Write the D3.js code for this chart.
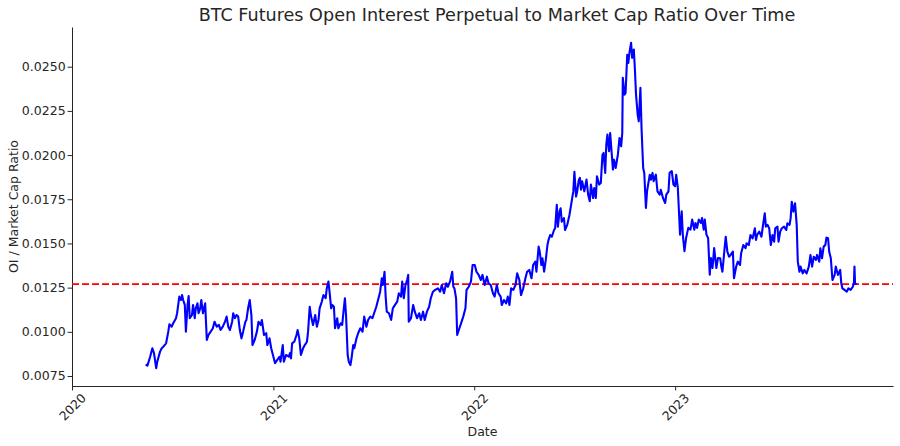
<!DOCTYPE html>
<html><head><meta charset="utf-8">
<script src="https://cdn.jsdelivr.net/npm/d3@7"></script>
<style>
body{margin:0;background:#fff}
svg{display:block}
text{font-family:"DejaVu Sans",sans-serif;fill:#262626}
</style>
</head><body>
<svg id="chart" width="900" height="446"></svg>
<script>
const titleText = "BTC Futures Open Interest Perpetual to Market Cap Ratio Over Time";
const xLabel = "Date";
const yLabel = "OI / Market Cap Ratio";
const yTicks = [0.0075, 0.0100, 0.0125, 0.0150, 0.0175, 0.0200, 0.0225, 0.0250];
const xTickYears = ["2020", "2021", "2022", "2023"];
const meanRatio = 0.0127;

const dates = [
"2020-05-14","2020-05-17","2020-05-22","2020-05-26","2020-05-29","2020-06-02","2020-06-04","2020-06-09","2020-06-12","2020-06-15",
"2020-06-20","2020-06-24","2020-06-26","2020-06-30","2020-07-03","2020-07-08","2020-07-10","2020-07-14","2020-07-17","2020-07-19",
"2020-07-21","2020-07-24","2020-07-26","2020-07-29","2020-07-31","2020-08-02","2020-08-06","2020-08-08","2020-08-11","2020-08-13",
"2020-08-16","2020-08-18","2020-08-21","2020-08-23","2020-08-26","2020-08-28","2020-08-30","2020-09-02","2020-09-05","2020-09-09",
"2020-09-13","2020-09-16","2020-09-20","2020-09-24","2020-09-27","2020-10-01","2020-10-05","2020-10-08","2020-10-11","2020-10-14",
"2020-10-18","2020-10-20","2020-10-23","2020-10-26","2020-10-29","2020-11-01","2020-11-04","2020-11-07","2020-11-11","2020-11-13",
"2020-11-16","2020-11-19","2020-11-22","2020-11-24","2020-11-28","2020-12-02","2020-12-05","2020-12-09","2020-12-11","2020-12-15",
"2020-12-19","2020-12-21","2020-12-25","2020-12-28","2021-01-01","2021-01-04","2021-01-08","2021-01-12","2021-01-14","2021-01-18",
"2021-01-20","2021-01-24","2021-01-29","2021-01-31","2021-02-02","2021-02-04","2021-02-08","2021-02-12","2021-02-14","2021-02-17",
"2021-02-20","2021-02-24","2021-02-27","2021-03-03","2021-03-05","2021-03-08","2021-03-10","2021-03-14","2021-03-18","2021-03-21",
"2021-03-24","2021-03-26","2021-03-30","2021-04-02","2021-04-06","2021-04-08","2021-04-11","2021-04-13","2021-04-16","2021-04-18",
"2021-04-21","2021-04-23","2021-04-27","2021-04-29","2021-05-03","2021-05-06","2021-05-09","2021-05-11","2021-05-13","2021-05-16",
"2021-05-18","2021-05-21","2021-05-23","2021-05-26","2021-05-28","2021-06-01","2021-06-04","2021-06-08","2021-06-12","2021-06-15",
"2021-06-19","2021-06-22","2021-06-26","2021-06-30","2021-07-03","2021-07-07","2021-07-11","2021-07-14","2021-07-17","2021-07-19",
"2021-07-22","2021-07-24","2021-07-26","2021-07-30","2021-08-03","2021-08-06","2021-08-10","2021-08-14","2021-08-17","2021-08-21",
"2021-08-23","2021-08-26","2021-08-29","2021-09-01","2021-09-03","2021-09-04","2021-09-08","2021-09-12","2021-09-15","2021-09-19",
"2021-09-23","2021-09-26","2021-09-30","2021-10-03","2021-10-07","2021-10-11","2021-10-14","2021-10-18","2021-10-22","2021-10-27",
"2021-10-31","2021-11-03","2021-11-07","2021-11-11","2021-11-14","2021-11-18","2021-11-22","2021-11-24","2021-11-26","2021-11-29",
"2021-12-01","2021-12-05","2021-12-08","2021-12-12","2021-12-16","2021-12-18","2021-12-22","2021-12-26","2021-12-29","2022-01-02",
"2022-01-05","2022-01-09","2022-01-13","2022-01-16","2022-01-20","2022-01-24","2022-01-27","2022-01-31","2022-02-04","2022-02-07",
"2022-02-11","2022-02-14","2022-02-18","2022-02-20","2022-02-24","2022-02-28","2022-03-03","2022-03-06","2022-03-09","2022-03-13",
"2022-03-17","2022-03-20","2022-03-24","2022-03-27","2022-03-31","2022-04-04","2022-04-07","2022-04-11","2022-04-15","2022-04-18",
"2022-04-22","2022-04-24","2022-04-28","2022-04-30","2022-05-03","2022-05-05","2022-05-08","2022-05-11","2022-05-14","2022-05-16",
"2022-05-19","2022-05-22","2022-05-26","2022-05-28","2022-05-31","2022-06-02","2022-06-05","2022-06-07","2022-06-09","2022-06-13",
"2022-06-15","2022-06-19","2022-06-23","2022-06-25","2022-06-28","2022-06-30","2022-07-02","2022-07-05","2022-07-07","2022-07-10",
"2022-07-12","2022-07-14","2022-07-16","2022-07-20","2022-07-24","2022-07-27","2022-07-30","2022-08-01","2022-08-05","2022-08-07",
"2022-08-10","2022-08-12","2022-08-16","2022-08-19","2022-08-22","2022-08-24","2022-08-27","2022-08-29","2022-08-31","2022-09-03",
"2022-09-05","2022-09-08","2022-09-10","2022-09-12","2022-09-15","2022-09-19","2022-09-22","2022-09-25","2022-09-27","2022-09-28",
"2022-10-01","2022-10-03","2022-10-06","2022-10-08","2022-10-10","2022-10-13","2022-10-15","2022-10-18","2022-10-20","2022-10-22",
"2022-10-25","2022-10-27","2022-10-30","2022-11-01","2022-11-04","2022-11-06","2022-11-09","2022-11-11","2022-11-13","2022-11-16",
"2022-11-18","2022-11-21","2022-11-23","2022-11-27","2022-11-30","2022-12-04","2022-12-06","2022-12-10","2022-12-14","2022-12-16",
"2022-12-20","2022-12-22","2022-12-26","2022-12-29","2023-01-01","2023-01-03","2023-01-06","2023-01-08","2023-01-10","2023-01-13",
"2023-01-15","2023-01-18","2023-01-21","2023-01-25","2023-01-29","2023-02-01","2023-02-05","2023-02-07","2023-02-10","2023-02-13",
"2023-02-17","2023-02-19","2023-02-22","2023-02-24","2023-02-27","2023-03-02","2023-03-05","2023-03-07","2023-03-10","2023-03-13",
"2023-03-17","2023-03-20","2023-03-24","2023-03-26","2023-03-28","2023-04-01","2023-04-03","2023-04-06","2023-04-09","2023-04-12",
"2023-04-16","2023-04-18","2023-04-22","2023-04-25","2023-04-29","2023-05-01","2023-05-05","2023-05-09","2023-05-11","2023-05-15",
"2023-05-18","2023-05-22","2023-05-26","2023-05-28","2023-05-30","2023-06-03","2023-06-07","2023-06-09","2023-06-13","2023-06-15",
"2023-06-18","2023-06-21","2023-06-24","2023-06-27","2023-06-30","2023-07-02","2023-07-06","2023-07-08","2023-07-11","2023-07-14",
"2023-07-18","2023-07-22","2023-07-24","2023-07-28","2023-07-30","2023-08-01","2023-08-04","2023-08-07","2023-08-10","2023-08-12",
"2023-08-15","2023-08-17","2023-08-21","2023-08-24","2023-08-28","2023-09-01","2023-09-04","2023-09-07","2023-09-10","2023-09-14",
"2023-09-16","2023-09-20","2023-09-22","2023-09-25","2023-09-28","2023-10-01","2023-10-03","2023-10-06","2023-10-08","2023-10-11",
"2023-10-14","2023-10-18","2023-10-20","2023-10-24","2023-10-28","2023-10-30","2023-11-01","2023-11-05","2023-11-09","2023-11-12",
"2023-11-16","2023-11-20","2023-11-22","2023-11-23","2023-11-24","2023-11-27"
];

const ratio = [
0.00816,0.00808,0.00859,0.00907,0.00879,0.00794,0.00831,0.00888,0.00907,0.00916,
0.00935,0.01001,0.01043,0.01029,0.01048,0.01077,0.01105,0.01199,0.01180,0.01208,
0.01180,0.01152,0.01001,0.01152,0.01203,0.01077,0.01095,0.01152,0.01077,0.01133,
0.01161,0.01105,0.01133,0.01180,0.01105,0.01133,0.01161,0.00954,0.00982,0.01001,
0.01020,0.01057,0.01029,0.01039,0.01010,0.01029,0.01057,0.01086,0.01029,0.01010,
0.01057,0.01105,0.01077,0.01095,0.01086,0.01010,0.00963,0.01001,0.01057,0.01067,
0.01133,0.01180,0.01095,0.00925,0.00954,0.01001,0.01057,0.01039,0.01067,0.00982,
0.00992,0.00925,0.00963,0.00907,0.00859,0.00822,0.00841,0.00859,0.00831,0.00925,
0.00831,0.00869,0.00859,0.00879,0.00850,0.00935,0.00944,0.00982,0.01010,0.00963,
0.00869,0.00907,0.00925,0.00944,0.01001,0.01142,0.01095,0.01039,0.01095,0.01029,
0.01067,0.01133,0.01171,0.01208,0.01190,0.01246,0.01284,0.01227,0.01133,0.01152,
0.01142,0.01020,0.01077,0.01020,0.01048,0.01039,0.01133,0.01190,0.01095,0.00869,
0.00831,0.00812,0.00850,0.00925,0.00907,0.00963,0.00992,0.01020,0.01001,0.01086,
0.01029,0.01067,0.01086,0.01077,0.01105,0.01142,0.01190,0.01227,0.01303,0.01265,
0.01340,0.01199,0.01114,0.01105,0.01067,0.01133,0.01152,0.01171,0.01218,0.01199,
0.01284,0.01190,0.01265,0.01293,0.01322,0.01057,0.01077,0.01152,0.01114,0.01077,
0.01105,0.01067,0.01114,0.01067,0.01114,0.01142,0.01190,0.01227,0.01237,0.01246,
0.01227,0.01265,0.01218,0.01275,0.01255,0.01284,0.01340,0.01255,0.01246,0.01190,
0.00982,0.01020,0.01048,0.01086,0.01133,0.01237,0.01255,0.01284,0.01378,0.01378,
0.01340,0.01322,0.01293,0.01322,0.01265,0.01312,0.01275,0.01265,0.01218,0.01199,
0.01265,0.01218,0.01199,0.01152,0.01180,0.01161,0.01199,0.01152,0.01246,0.01237,
0.01265,0.01331,0.01293,0.01208,0.01246,0.01303,0.01340,0.01350,0.01303,0.01378,
0.01397,0.01340,0.01482,0.01454,0.01378,0.01416,0.01340,0.01407,0.01491,0.01520,
0.01548,0.01538,0.01576,0.01586,0.01718,0.01595,0.01680,0.01699,0.01623,0.01643,
0.01576,0.01605,0.01661,0.01699,0.01756,0.01793,0.01906,0.01765,0.01793,0.01859,
0.01871,0.01804,0.01852,0.01795,0.01861,0.01776,0.01739,0.01833,0.01757,0.01814,
0.01757,0.01880,0.01833,0.01842,0.02002,0.02012,0.01899,0.02059,0.02116,0.02022,
0.02125,0.02002,0.01918,0.01974,0.01927,0.02002,0.02097,0.02050,0.02125,0.02437,
0.02342,0.02352,0.02568,0.02521,0.02578,0.02635,0.02550,0.02597,0.02483,0.02342,
0.02229,0.02191,0.02380,0.02154,0.01927,0.01899,0.01701,0.01795,0.01833,0.01889,
0.01861,0.01899,0.01852,0.01889,0.01795,0.01776,0.01804,0.01757,0.01729,0.01776,
0.01795,0.01899,0.01909,0.01833,0.01824,0.01889,0.01814,0.01682,0.01550,0.01682,
0.01550,0.01456,0.01531,0.01588,0.01578,0.01635,0.01578,0.01616,0.01588,0.01635,
0.01616,0.01644,0.01578,0.01635,0.01550,0.01531,0.01323,0.01418,0.01361,0.01474,
0.01361,0.01418,0.01416,0.01369,0.01340,0.01473,0.01538,0.01454,0.01425,0.01435,
0.01454,0.01303,0.01369,0.01397,0.01378,0.01444,0.01491,0.01473,0.01501,0.01491,
0.01548,0.01529,0.01586,0.01520,0.01548,0.01567,0.01538,0.01586,0.01671,0.01595,
0.01605,0.01586,0.01491,0.01548,0.01510,0.01586,0.01595,0.01510,0.01567,0.01586,
0.01595,0.01576,0.01614,0.01605,0.01643,0.01736,0.01680,0.01727,0.01605,0.01397,
0.01340,0.01369,0.01331,0.01350,0.01331,0.01369,0.01435,0.01369,0.01425,0.01407,
0.01435,0.01397,0.01473,0.01416,0.01482,0.01491,0.01533,0.01529,0.01454,0.01416,
0.01293,0.01322,0.01369,0.01322,0.01350,0.01275,0.01246,0.01237,0.01227,0.01246,
0.01237,0.01255,0.01275,0.01369,0.01275,0.01270
];

const W = 900, H = 446;
const margin = {top: 27, right: 7, bottom: 60, left: 72};
const parse = d3.timeParse("%Y-%m-%d");
const data = dates.map((d, i) => ({date: parse(d), value: ratio[i]}));

const svg = d3.select("#chart");
const x = d3.scaleTime()
  .domain([parse("2020-01-01"), parse("2024-02-01")])
  .range([margin.left, W - margin.right]);
const y = d3.scaleLinear()
  .domain([0.006934, 0.027247])
  .range([H - margin.bottom, margin.top]);

const tickFont = 12.5;

// y axis
const gy = svg.append("g")
  .attr("transform", `translate(${margin.left},0)`)
  .call(d3.axisLeft(y).tickValues(yTicks).tickFormat(d3.format(".4f")).tickSize(4.4).tickSizeOuter(0).tickPadding(2));
gy.selectAll("text").style("font-size", tickFont + "px").attr("fill", "#262626");
gy.selectAll("line,path").attr("stroke", "#262626").attr("stroke-width", 1);

// x axis
const xTickDates = xTickYears.map(s => parse(s + "-01-01"));
const gx = svg.append("g")
  .attr("transform", `translate(0,${H - margin.bottom})`)
  .call(d3.axisBottom(x).tickValues(xTickDates).tickFormat(d3.timeFormat("%Y")).tickSize(4.4).tickSizeOuter(0));
gx.selectAll("line,path").attr("stroke", "#262626").attr("stroke-width", 1);
gx.selectAll("text")
  .style("font-size", tickFont + "px")
  .attr("fill", "#262626")
  .attr("y", 0).attr("dy", null)
  .attr("text-anchor", "middle")
  .attr("dominant-baseline", "central")
  .attr("transform", "translate(0,21) rotate(-45)");

// mean line
svg.append("line")
  .attr("x1", margin.left).attr("x2", W - margin.right)
  .attr("y1", y(meanRatio)).attr("y2", y(meanRatio))
  .attr("stroke", "#ff0000").attr("stroke-width", 1.9)
  .attr("stroke-dasharray", "7,3");

// data line
const line = d3.line().x(d => x(d.date)).y(d => y(d.value));
svg.append("path")
  .datum(data)
  .attr("d", line)
  .attr("fill", "none")
  .attr("stroke", "#0000ff")
  .attr("stroke-width", 2.1)
  .attr("stroke-linejoin", "round");

// title & labels
svg.append("text")
  .attr("x", 497).attr("y", 21)
  .attr("text-anchor", "middle")
  .style("font-size", "17.6px")
  .text(titleText);

svg.append("text")
  .attr("x", (margin.left + W - margin.right) / 2).attr("y", 436)
  .attr("text-anchor", "middle")
  .style("font-size", tickFont + "px")
  .text(xLabel);

svg.append("text")
  .attr("transform", `translate(13,${(margin.top + H - margin.bottom) / 2}) rotate(-90)`)
  .attr("text-anchor", "middle")
  .attr("dominant-baseline", "central")
  .style("font-size", tickFont + "px")
  .text(yLabel);
</script>
</body></html>
